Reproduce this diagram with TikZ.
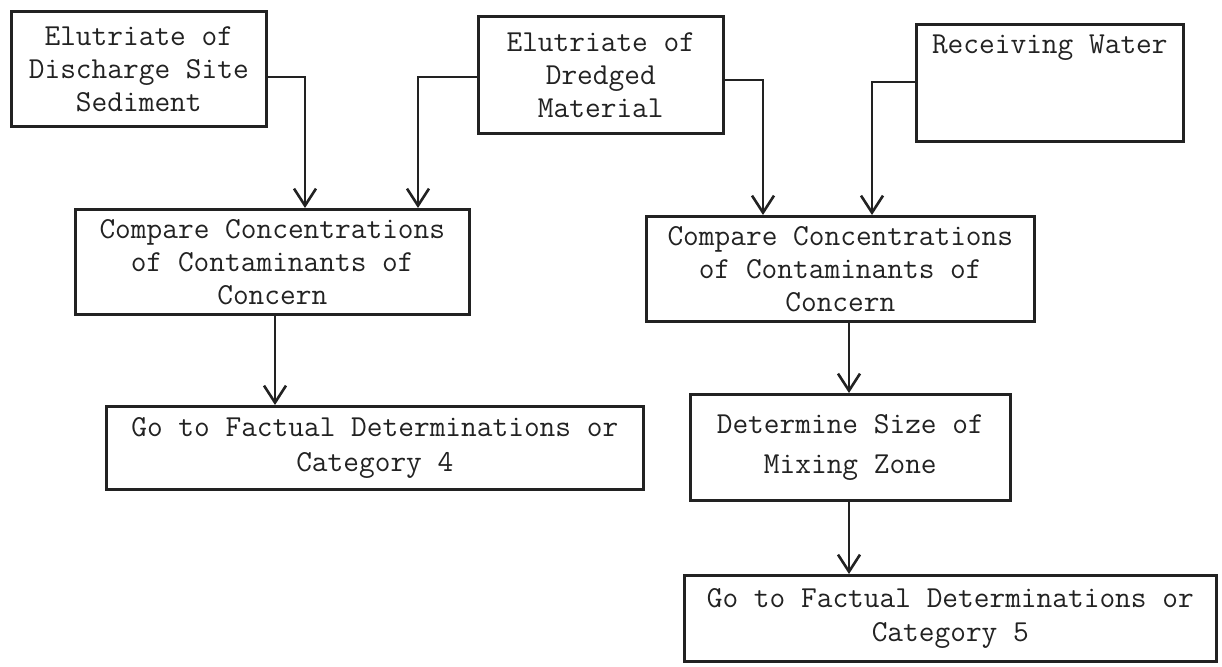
\documentclass[tikz,border=0pt]{standalone}
\usetikzlibrary{arrows.meta}
\definecolor{ink}{HTML}{222222}
\tikzset{
  box/.style={draw=ink, line width=2.6pt, inner sep=0pt, anchor=north west, align=center,
    text=ink, font=\ttfamily\fontsize{30.5}{33}\selectfont},
  conn/.style={draw=ink, line width=2.6pt, -{Straight Barb[length=17pt,width=22pt,line width=2.6pt]}},
}
\begin{document}
\begin{tikzpicture}[x=1pt,y=-1pt]
\useasboundingbox (0,0) rectangle (1222,666);
% top row
\node[box, minimum width=255pt, minimum height=115pt] (A) at (10,10)
  {Elutriate of\\Discharge Site\\Sediment};
\node[box, minimum width=245pt, minimum height=117pt] (B) at (477,15)
  {Elutriate of\\Dredged\\Material};
\node[box, minimum width=267pt, minimum height=117pt,
  label={[anchor=center, yshift=-25pt, text=ink, font=\ttfamily\fontsize{30.5}{33}\selectfont]north:Receiving Water}] (C) at (915,23) {};
% middle row
\node[box, minimum width=394pt, minimum height=105pt] (D) at (74,208)
  {Compare Concentrations\\of Contaminants of\\Concern};
\node[box, minimum width=388pt, minimum height=105pt] (E) at (645,215)
  {Compare Concentrations\\of Contaminants of\\Concern};
% lower
\node[box, minimum width=537pt, minimum height=83pt, font=\ttfamily\fontsize{30.5}{35}\selectfont] (F) at (105,405)
  {Go to Factual Determinations or\\Category 4};
\node[box, minimum width=320pt, minimum height=106pt, font=\ttfamily\fontsize{30.5}{40}\selectfont] (G) at (689,393)
  {Determine Size of\\Mixing Zone};
\node[box, minimum width=532pt, minimum height=86pt, font=\ttfamily\fontsize{30.5}{34}\selectfont] (H) at (683,574)
  {Go to Factual Determinations or\\Category 5};
% connector bends
\coordinate (ka) at (305,77);
\coordinate (kb) at (418,77);
\coordinate (kc) at (763,80);
\coordinate (kd) at (872,82);
\coordinate (ke) at (275,0);
\coordinate (kf) at (849,0);
\draw[conn] (A.east |- ka) -| (ka |- D.north);
\draw[conn] (B.west |- kb) -| (kb |- D.north);
\draw[conn] (B.east |- kc) -| (kc |- E.north);
\draw[conn] (C.west |- kd) -| (kd |- E.north);
\draw[conn] (ke |- D.south) -- (ke |- F.north);
\draw[conn] (kf |- E.south) -- (kf |- G.north);
\draw[conn] (kf |- G.south) -- (kf |- H.north);
\end{tikzpicture}
\end{document}
